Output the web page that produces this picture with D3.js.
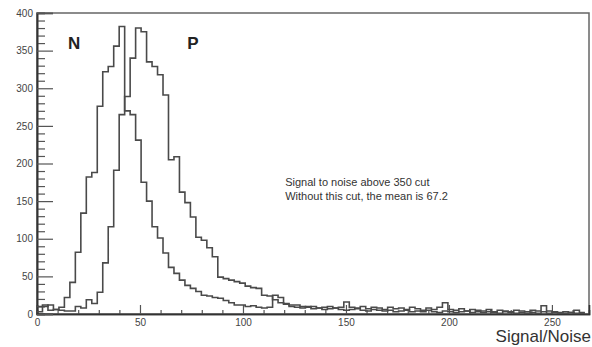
<!DOCTYPE html>
<html>
  <head>
    <meta charset='UTF-8'/>
    <script src="https://cdn.jsdelivr.net/npm/d3@7"></script>
    <style>
      body { margin : 0; background : white; }
      .tick text { font : 10px "Liberation Sans", Arial, sans-serif; fill : #444; }
      .hist { fill : none; stroke : #4a4a4a; stroke-width : 1.6; }
      .big { font : bold 17px "Liberation Sans", Arial, sans-serif; fill : #222; }
      .note { font : 11px "Liberation Sans", Arial, sans-serif; fill : #333; }
    </style>
  </head>
  <body>
    <svg id='fig' width='592' height='347'></svg>
    <script>
      // histogram content, 100 bins of 2.66 starting at 0
      const binWidth = 2.66
      const nCounts = [10, 12, 5, 6, 9, 22, 42, 82, 134, 182,
		       188, 276, 322, 329, 356, 382, 270, 265, 231, 175,
		       150, 116, 101, 81, 62, 54, 45, 38, 34, 30,
		       25, 24, 22, 21, 18, 15, 12, 12, 10, 11,
		       9, 8, 9, 25, 22, 14, 10, 9, 8, 10,
		       7, 8, 6, 7, 8, 6, 5, 6, 7, 5,
		       4, 6, 5, 4, 5, 3, 4, 5, 3, 4,
		       3, 5, 3, 2, 4, 3, 2, 3, 4, 2,
		       3, 2, 3, 2, 1, 3, 2, 1, 2, 1,
		       2, 1, 3, 1, 2, 1, 1, 2, 1, 1]
      const pCounts = [3, 10, 12, 6, 5, 4, 4, 10, 8, 19,
		       14, 29, 68, 116, 191, 265, 289, 340, 380, 375,
		       335, 329, 318, 291, 205, 209, 162, 148, 129, 102,
		       98, 88, 76, 49, 47, 45, 43, 41, 37, 35,
		       34, 25, 24, 19, 15, 13, 12, 12, 10, 9,
		       10, 8, 9, 10, 8, 9, 16, 9, 8, 10,
		       7, 9, 8, 6, 9, 7, 8, 6, 9, 7,
		       5, 8, 6, 9, 15, 6, 5, 7, 4, 6,
		       5, 4, 6, 3, 5, 4, 3, 5, 4, 3,
		       5, 4, 11, 4, 3, 2, 3, 2, 5, 2]
      const xMajor = [0, 50, 100, 150, 200, 250]
      const yMajor = [0, 50, 100, 150, 200, 250, 300, 350, 400]
      const labels = [{text : "N", at : [15, 352]}, {text : "P", at : [73, 352]}]
      const notes = ["Signal to noise above 350 cut",
		     "Without this cut, the mean is 67.2"]
      const xTitle = "Signal/Noise"

      const svg = d3.select("#fig")
      const x = d3.scaleLinear().domain([0, 268]).range([37, 589])
      const y = d3.scaleLinear().domain([0, 400]).range([314, 13])

      // frame
      svg.append("rect")
	  .attr("x", x(0)).attr("y", y(400))
	  .attr("width", x(268) - x(0)).attr("height", y(0) - y(400))
	  .attr("fill", "none").attr("stroke", "#666").attr("stroke-width", 1.5)

      // axes, ticks pointing inwards
      const minorX = d3.range(0, 268, 10).filter(v => v % 50)
      const minorY = d3.range(0, 401, 10).filter(v => v % 50)

      svg.append("g").attr("transform", `translate(0,${y(0)})`)
	  .call(d3.axisBottom(x).tickValues(minorX).tickSize(-4).tickFormat(""))
      svg.append("g").attr("transform", `translate(0,${y(0)})`)
	  .call(d3.axisBottom(x).tickValues(xMajor).tickSize(-9).tickPadding(5))
      svg.append("g").attr("transform", `translate(${x(0)},0)`)
	  .call(d3.axisLeft(y).tickValues(minorY).tickSize(-8).tickFormat(""))
      svg.append("g").attr("transform", `translate(${x(0)},0)`)
	  .call(d3.axisLeft(y).tickValues(yMajor).tickSize(-16).tickPadding(4))

      svg.selectAll(".domain").attr("stroke", "#333").attr("stroke-width", 1.6)
      svg.selectAll(".tick line").attr("stroke", "#555").attr("stroke-width", 1.2)

      // step histograms
      function steps(counts) {
	  const pts = counts.map((c, i) => [i*binWidth, c])
	  pts.push([counts.length*binWidth, counts[counts.length-1]])
	  return pts
      }
      const line = d3.line()
	    .x(d => x(d[0]))
	    .y(d => y(d[1]))
	    .curve(d3.curveStepAfter)

      svg.append("path").attr("class", "hist").attr("d", line(steps(nCounts)))
      svg.append("path").attr("class", "hist").attr("d", line(steps(pCounts)))

      // labels
      svg.selectAll(".big").data(labels).join("text")
	  .attr("class", "big")
	  .attr("x", d => x(d.at[0]))
	  .attr("y", d => y(d.at[1]))
	  .text(d => d.text)

      svg.selectAll(".note").data(notes).join("text")
	  .attr("class", "note")
	  .attr("x", x(120.5))
	  .attr("y", (d, i) => y(170 - i*18.5))
	  .text(d => d)

      svg.append("text")
	  .attr("x", 591).attr("y", 342)
	  .attr("text-anchor", "end")
	  .style("font", "17px 'Liberation Sans', Arial, sans-serif")
	  .attr("fill", "#333")
	  .text(xTitle)
    </script>
  </body>
</html>
